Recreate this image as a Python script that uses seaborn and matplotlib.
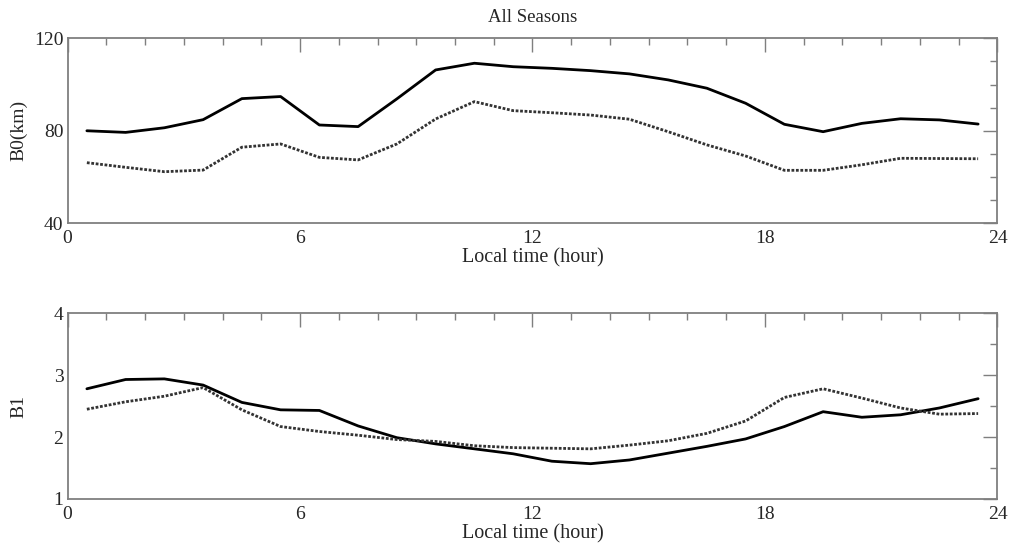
import numpy as np
import pandas as pd
import matplotlib
matplotlib.use('Agg')
import matplotlib.pyplot as plt
from matplotlib.ticker import MultipleLocator
import seaborn as sns

# local time (hour), bin centres
hours = [h + 0.5 for h in range(24)]

b0_solid = [80.0, 79.3, 81.3, 84.8, 93.9, 94.8, 82.5, 81.8, 93.8, 106.3, 109.2, 107.7,
            107.0, 106.0, 104.6, 102.0, 98.4, 91.9, 82.8, 79.6, 83.2, 85.2, 84.7, 82.9]
b0_dotted = [66.2, 64.2, 62.3, 63.0, 72.9, 74.3, 68.5, 67.4, 74.3, 85.1, 92.6, 88.7,
             87.8, 86.8, 85.0, 79.6, 73.9, 69.1, 62.9, 62.9, 65.3, 68.1, 68.0, 67.9]

b1_solid = [2.78, 2.93, 2.94, 2.84, 2.56, 2.44, 2.43, 2.18, 1.99, 1.89, 1.81, 1.73,
            1.61, 1.57, 1.63, 1.74, 1.85, 1.97, 2.17, 2.41, 2.32, 2.36, 2.47, 2.62]
b1_dotted = [2.45, 2.57, 2.66, 2.80, 2.44, 2.17, 2.09, 2.03, 1.96, 1.93, 1.86, 1.83,
             1.82, 1.81, 1.87, 1.94, 2.06, 2.26, 2.64, 2.78, 2.63, 2.47, 2.37, 2.38]

sns.set_style('white')
plt.rcParams['font.family'] = ['Liberation Serif', 'DejaVu Serif']
plt.rcParams['font.size'] = 14

frame = '#7f7f7f'

fig = plt.figure(figsize=(10.09, 5.49), dpi=100)
ax1 = fig.add_axes([0.0669, 0.5933, 0.9217, 0.337])
ax2 = fig.add_axes([0.0669, 0.0911, 0.9217, 0.3383])


def style_axis(ax, ylim, ymajor, yminor, ylabel):
    ax.set_xlim(0, 24)
    ax.set_ylim(*ylim)
    ax.xaxis.set_major_locator(MultipleLocator(6))
    ax.xaxis.set_minor_locator(MultipleLocator(1))
    ax.yaxis.set_major_locator(MultipleLocator(ymajor))
    ax.yaxis.set_minor_locator(MultipleLocator(yminor))
    ax.tick_params(which='both', direction='in', top=True, right=True,
                   color=frame, width=1.0, labelsize=14)
    ax.tick_params(axis='x', which='major', pad=5)
    ax.tick_params(axis='y', which='major', pad=3)
    ax.tick_params(which='major', length=10)
    ax.tick_params(which='minor', length=5)
    for s in ax.spines.values():
        s.set_color(frame)
        s.set_linewidth(1.3)
    ax.set_xlabel('Local time (hour)', fontsize=14.5, labelpad=1)
    ax.set_ylabel(ylabel, fontsize=14)
    ax.yaxis.set_label_coords(-0.043, 0.5)


sns.lineplot(x=hours, y=b0_solid, ax=ax1, color='black', lw=2.0)
sns.lineplot(x=hours, y=b0_dotted, ax=ax1, color='#333333', lw=2.0, linestyle=(0, (1, 0.6)))
style_axis(ax1, (40, 120), 40, 10, 'B0(km)')
ax1.set_title('All Seasons', fontsize=13.5, pad=12)

sns.lineplot(x=hours, y=b1_solid, ax=ax2, color='black', lw=2.0)
sns.lineplot(x=hours, y=b1_dotted, ax=ax2, color='#333333', lw=2.0, linestyle=(0, (1, 0.6)))
style_axis(ax2, (1, 4), 1, 0.5, 'B1')

fig.savefig('out.png', dpi=100)
